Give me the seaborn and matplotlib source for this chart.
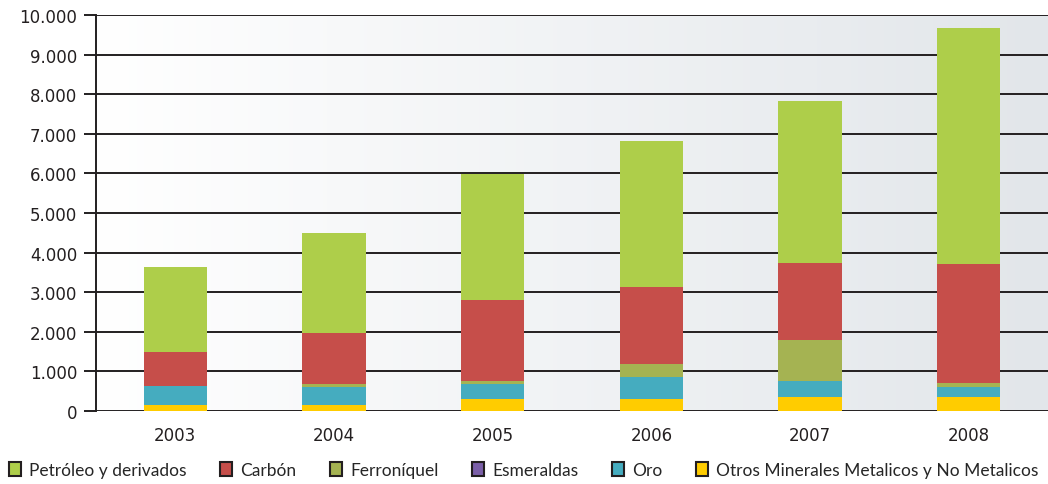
import numpy as np
import matplotlib
matplotlib.use("Agg")
import matplotlib.pyplot as plt
from matplotlib.colors import LinearSegmentedColormap
from matplotlib.patches import Patch
from matplotlib.ticker import FuncFormatter, MultipleLocator
import seaborn as sns

# Datos
years = ["2003", "2004", "2005", "2006", "2007", "2008"]
otros = [160, 160, 300, 300, 350, 350]
oro = [460, 456, 370, 570, 420, 265]
esmeraldas = [0, 0, 0, 0, 0, 0]
ferroniquel = [0, 60, 100, 310, 1035, 100]
carbon = [880, 1300, 2045, 1940, 1945, 2990]
petroleo = [2130, 2530, 3160, 3690, 4090, 5960]

labels = ["Petróleo y derivados", "Carbón", "Ferroníquel", "Esmeraldas", "Oro",
          "Otros Minerales Metalicos y No Metalicos"]
colors = ["#AECE4A", "#C64E4A", "#A5B352", "#7B5FA8", "#45ACBF", "#FFCC00"]
series = [petroleo, carbon, ferroniquel, esmeraldas, oro, otros]

dark = "#231F20"

sns.set_style("white")
plt.rcParams["font.family"] = ["DejaVu Sans"]


def main():
    fig, ax = plt.subplots(figsize=(10.48, 4.85), dpi=100)
    fig.subplots_adjust(left=96 / 1048, right=1.0, bottom=1 - 412 / 485, top=1 - 16 / 485)

    # fondo degradado
    cmap = LinearSegmentedColormap.from_list("bg", ["#FFFFFF", "#E2E6EA"])
    grad = np.linspace(0, 1, 256).reshape(1, -1)
    ax.imshow(grad, cmap=cmap, extent=(-0.5, 5.5, 0, 10000), aspect="auto", zorder=0)

    # barras apiladas (de abajo hacia arriba)
    bottom = np.zeros(len(years))
    for vals, color in zip(series[::-1], colors[::-1]):
        sns.barplot(x=years, y=vals, order=years, bottom=bottom.copy(), color=color,
                    saturation=1, width=0.4, errorbar=None, linewidth=0, zorder=3, ax=ax)
        bottom += np.array(vals)

    ax.set_xlim(-0.5, 5.5)
    ax.set_ylim(0, 10000)
    ax.set_xlabel("")
    ax.set_ylabel("")

    ax.yaxis.set_major_locator(MultipleLocator(1000))
    ax.yaxis.set_major_formatter(FuncFormatter(lambda v, p: f"{int(v):,}".replace(",", ".")))
    ax.yaxis.grid(True, color=dark, linewidth=1.4)
    ax.xaxis.grid(False)
    ax.set_axisbelow(True)

    for s in ["top", "right", "bottom"]:
        ax.spines[s].set_visible(False)
    ax.spines["left"].set_color(dark)
    ax.spines["left"].set_linewidth(1.4)

    ax.set_xticks(range(len(years)))
    ax.set_xticklabels(years)
    ax.set_xticks(np.arange(-0.5, 6, 1), minor=True)
    ax.tick_params(axis="x", which="major", length=0, pad=11, labelsize=12, labelcolor=dark)
    ax.tick_params(axis="x", which="minor", length=8.6, width=1.4, color=dark, direction="out")
    ax.tick_params(axis="y", which="major", left=True, length=8.6, width=1.4, color=dark,
                   pad=5, labelsize=12, labelcolor=dark)

    handles = [Patch(facecolor=c, edgecolor=dark, linewidth=1.5) for c in colors]
    fig.legend(handles, labels, loc="center left", bbox_to_anchor=(0.0, 0.028), ncol=6,
               frameon=False, handlelength=0.7, handleheight=0.85, handletextpad=0.45,
               columnspacing=1.95, borderaxespad=0.3, borderpad=0.2,
               prop={"family": "Lato", "size": 12.5})

    fig.savefig("out.png", dpi=100)
    plt.close(fig)


if __name__ == "__main__":
    main()
